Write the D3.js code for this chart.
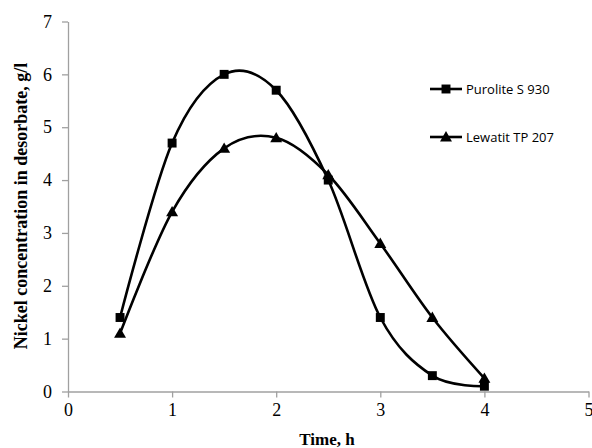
<!DOCTYPE html>
<html><head><meta charset="utf-8">
<script src="https://cdn.jsdelivr.net/npm/d3@7"></script>
<style>body{margin:0;background:#fff}svg{display:block}</style>
</head><body>
<svg id="c" width="592" height="448"></svg>
<script>
const time = [0.5, 1, 1.5, 2, 2.5, 3, 3.5, 4];
const purolite = [1.4, 4.7, 6.0, 5.7, 4.0, 1.4, 0.3, 0.1];
const lewatit = [1.1, 3.4, 4.6, 4.8, 4.1, 2.8, 1.4, 0.25];
const seriesNames = ["Purolite S 930", "Lewatit TP 207"];
const xTicks = [0, 1, 2, 3, 4, 5];
const yTicks = [0, 1, 2, 3, 4, 5, 6, 7];
const xTitle = "Time, h";
const yTitle = "Nickel concentration in desorbate, g/l";

const svg = d3.select("#c");
const x = d3.scaleLinear().domain([0, 5]).range([68, 588.5]);
const y = d3.scaleLinear().domain([0, 7]).range([391.5, 21.5]);
const axisColor = "#a0a0a0";
const serif = "'Liberation Serif','Times New Roman',serif";

const gx = svg.append("g").attr("transform", `translate(0,${y(0)})`)
  .call(d3.axisBottom(x).tickValues(xTicks).tickFormat(d3.format("d")).tickSizeInner(6).tickSizeOuter(0).tickPadding(6));
const gy = svg.append("g").attr("transform", `translate(${x(0)},0)`)
  .call(d3.axisLeft(y).tickValues(yTicks).tickFormat(d3.format("d")).tickSizeInner(6).tickSizeOuter(0).tickPadding(10));
[gx, gy].forEach(g => {
  g.select(".domain").attr("stroke", axisColor).attr("stroke-width", 1.3);
  g.selectAll(".tick line").attr("stroke", axisColor).attr("stroke-width", 1.3);
  g.selectAll(".tick text").attr("fill", "#000").style("font-family", serif).style("font-size", "18px");
});

const line = d3.line().x(d => x(d[0])).y(d => y(d[1])).curve(d3.curveCatmullRom.alpha(0));
const sets = [purolite, lewatit];
const sq = d3.symbol().type(d3.symbolSquare).size(80);
const tri = d3.symbol().type(d3.symbolTriangle).size(62);
sets.forEach((vals, i) => {
  const pts = time.map((t, j) => [t, vals[j]]);
  svg.append("path").attr("d", line(pts)).attr("fill", "none").attr("stroke", "#000").attr("stroke-width", 2.6);
  svg.selectAll(null).data(pts).enter().append("path")
    .attr("d", i === 0 ? sq : tri)
    .attr("transform", d => `translate(${x(d[0])},${y(d[1]) + (i === 1 ? 1 : 0)})`)
    .attr("fill", "#000");
});

// legend
const lg = [89, 137];
seriesNames.forEach((n, i) => {
  const g = svg.append("g").attr("transform", `translate(430,${lg[i]})`);
  g.append("line").attr("x1", 0).attr("x2", 32).attr("stroke", "#000").attr("stroke-width", 2.6);
  g.append("path").attr("d", i === 0 ? sq : tri).attr("transform", `translate(16,${i === 1 ? 1 : 0})`);
  g.append("text").attr("x", 36).attr("y", 5).text(n)
    .style("font-family", "'Open Sans',sans-serif").style("font-size", "13px");
});

svg.append("text").attr("x", 327).attr("y", 445).attr("text-anchor", "middle")
  .style("font-family", serif).style("font-weight", "bold").style("font-size", "17px").text(xTitle);
svg.append("text").attr("transform", "translate(27,206) rotate(-90)").attr("text-anchor", "middle")
  .style("font-family", serif).style("font-weight", "bold").style("font-size", "18px").text(yTitle);
</script>
</body></html>
